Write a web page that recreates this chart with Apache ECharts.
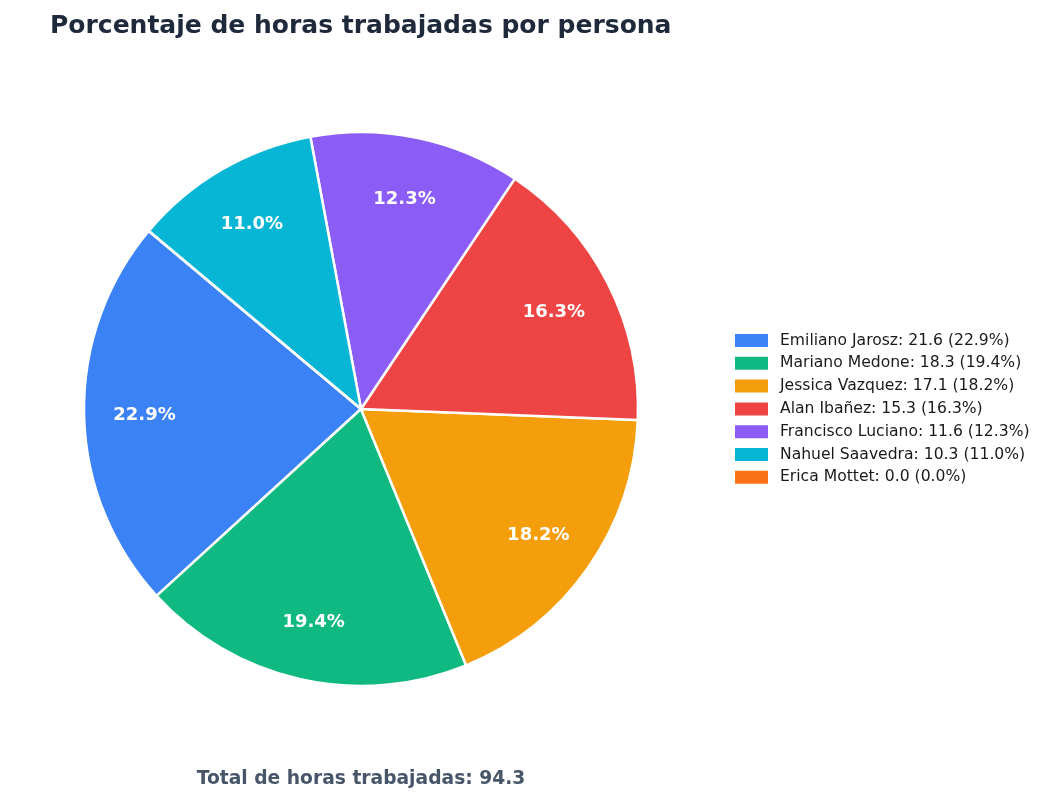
<!DOCTYPE html>
<html><head><meta charset="utf-8">
<script src="https://cdn.jsdelivr.net/npm/echarts@6/dist/echarts.min.js"></script>
<style>html,body{margin:0;padding:0;background:#fff}#c{width:1052px;height:802px}</style>
</head><body><div id="c"></div>
<script>
const names = ['Emiliano Jarosz','Mariano Medone','Jessica Vazquez','Alan Ibañez','Francisco Luciano','Nahuel Saavedra','Erica Mottet'];
const hours = [21.60, 18.30, 17.14, 15.34, 11.60, 10.34, 0.0];
const colors = ['#3b82f6','#10b981','#f59e0b','#ef4444','#8b5cf6','#06b6d4','#f97316'];
const titleText = 'Porcentaje de horas trabajadas por persona';

const total = hours.reduce((a,b)=>a+b,0);
const pct = v => (v/total*100).toFixed(1);
const byName = {};
names.forEach((n,i)=>byName[n]=hours[i]);
const data = names.map((n,i)=>({name:n, value:hours[i], itemStyle:{color:colors[i]}}));
const labelData = names.map((n,i)=>({name:n, value:hours[i], itemStyle:{color:'rgba(0,0,0,0)'}, label:{show: hours[i]>0}}));
const FONT = 'DejaVu Sans';
const chart = echarts.init(document.getElementById('c'), null, {renderer:'canvas'});
chart.setOption({
  animation:false,
  backgroundColor:'#ffffff',
  title:[{
    text:titleText, left:50, top:14, padding:0,
    textStyle:{fontFamily:FONT, fontSize:25, fontWeight:'bold', color:'#1e293b'}
  },{
    text:'Total de horas trabajadas: ' + total.toFixed(1), left:361, top:770, textAlign:'center', padding:0,
    textStyle:{fontFamily:FONT, fontSize:18.7, fontWeight:'bold', color:'#475569'}
  }],
  legend:{
    orient:'vertical', left:735, top:332, padding:0, itemWidth:33, itemHeight:13, itemGap:5.8, itemStyle:{borderWidth:0},
    icon:'rect', data:names,
    textStyle:{fontFamily:FONT, fontSize:15.6, lineHeight:17, color:'#1a1a1a', padding:[0,0,0,7]},
    formatter: n => n + ': ' + byName[n].toFixed(1) + ' (' + pct(byName[n]) + '%)'
  },
  series:[{
    type:'pie', center:[361,409], radius:[0,277], startAngle:140, clockwise:false,
    label:{show:false}, labelLine:{show:false}, silent:true,
    itemStyle:{borderColor:'#ffffff', borderWidth:2.5},
    emphasis:{disabled:true},
    data:data
  },{
    type:'pie', center:[361,411], radius:[150,277], startAngle:140, clockwise:false,
    silent:true, emphasis:{disabled:true}, legendHoverLink:false,
    label:{show:true, position:'inside', fontFamily:FONT, fontSize:18, fontWeight:'bold', color:'#ffffff',
      formatter: p => pct(p.value) + '%'},
    labelLine:{show:false},
    data:labelData
  }]
});
</script></body></html>
